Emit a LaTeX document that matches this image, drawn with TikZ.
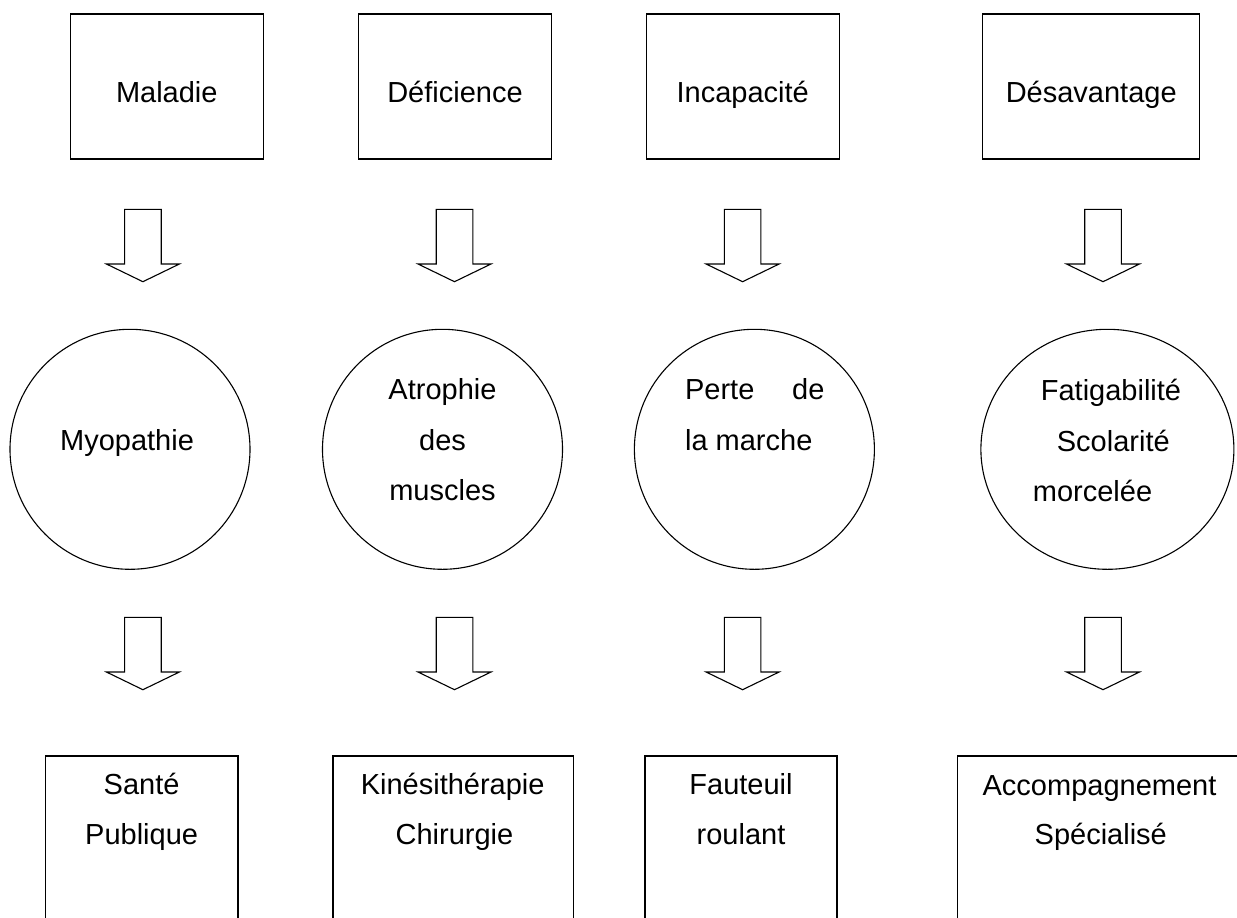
\documentclass[tikz,border=0pt]{standalone}
\usepackage{fontspec}
\setmainfont{Liberation Sans}
\usetikzlibrary{shapes.geometric}
\tikzset{
  boxnode/.style={draw, line width=1.4pt, rectangle, inner sep=0pt},
  roundnode/.style={draw, line width=1.1pt, ellipse, inner sep=0pt},
  txt/.style={inner sep=0pt, font=\fontsize{29}{35}\selectfont},
  arrowline/.style={draw, line width=1.1pt, line join=miter},
  pics/blockarrow/.style={code={
    \draw[arrowline] (-18.3,0) -- (18.3,0) -- (18.3,54.7) -- (36.5,54.7)
      -- (0,72.4) -- (-36.5,54.7) -- (-18.3,54.7) -- cycle;}}
}
\begin{document}
\begin{tikzpicture}[x=1pt, y=-1pt]
\useasboundingbox (0,0) rectangle (1237,918);
\fill[white] (0,0) rectangle (1237,918);

% top boxes
\node[boxnode, minimum width=192.9pt, minimum height=145pt] (b1) at (166.85,86.5) {};
\node[boxnode, minimum width=193pt, minimum height=145pt] (b2) at (454.7,86.5) {};
\node[boxnode, minimum width=192.8pt, minimum height=145pt] (b3) at (742.8,86.5) {};
\node[boxnode, minimum width=216.8pt, minimum height=145pt] (b4) at (1090.9,86.5) {};
\node[txt, anchor=base] (t1) at (166.8,102.7) {Maladie};
\node[txt, anchor=base] (t2) at (455,102.7) {Déficience};
\node[txt, anchor=base] (t3) at (742.7,102.7) {Incapacité};
\node[txt, anchor=base] (t4) at (1091.2,102.7) {Désavantage};

% top arrows
\coordinate (a1) at (142.9,209.3);
\coordinate (a2) at (454.5,209.3);
\coordinate (a3) at (742.6,209.3);
\coordinate (a4) at (1103,209.3);
\pic at (a1) {blockarrow};
\pic at (a2) {blockarrow};
\pic at (a3) {blockarrow};
\pic at (a4) {blockarrow};

% circles
\node[roundnode, minimum width=240pt, minimum height=240pt] (c1) at (130,449.3) {};
\node[roundnode, minimum width=240pt, minimum height=240pt] (c2) at (442.5,449.3) {};
\node[roundnode, minimum width=240pt, minimum height=240pt] (c3) at (754.4,449.3) {};
\node[roundnode, minimum width=253pt, minimum height=240pt] (c4) at (1107.4,449.3) {};
\node[txt, anchor=base] (m1) at (127,450) {Myopathie};
\node[txt, anchor=base] (m2a) at (442.5,399.3) {Atrophie};
\node[txt, anchor=base] (m2b) at (442.5,450.7) {des};
\node[txt, anchor=base] (m2c) at (442.5,500) {muscles};
\node[txt, anchor=base west] (m3a) at (684.9,399.3) {Perte};
\node[txt, anchor=base east] (m3b) at (824.6,399.3) {de};
\node[txt, anchor=base west] (m3c) at (684.9,450.7) {la marche};
\node[txt, anchor=base] (m4a) at (1111,400) {Fatigabilité};
\node[txt, anchor=base] (m4b) at (1113.3,451.7) {Scolarité};
\node[txt, anchor=base west] (m4c) at (1032.7,501.7) {morcelée};

% bottom arrows
\coordinate (d1) at (142.9,617.3);
\coordinate (d2) at (454.5,617.3);
\coordinate (d3) at (742.6,617.3);
\coordinate (d4) at (1103,617.3);
\pic at (d1) {blockarrow};
\pic at (d2) {blockarrow};
\pic at (d3) {blockarrow};
\pic at (d4) {blockarrow};

% bottom boxes
\node[boxnode, minimum width=192.5pt, minimum height=184pt] (e1) at (141.75,848) {};
\node[boxnode, minimum width=240.3pt, minimum height=184pt] (e2) at (453.15,848) {};
\node[boxnode, minimum width=192pt, minimum height=184pt] (e3) at (740.8,848) {};
\node[boxnode, minimum width=282.7pt, minimum height=184pt] (e4) at (1098.65,848) {};
\node[txt, anchor=base] (s1a) at (141.6,794) {Santé};
\node[txt, anchor=base] (s1b) at (141.6,844.3) {Publique};
\node[txt, anchor=base] (s2a) at (452.7,794) {Kinésithérapie};
\node[txt, anchor=base] (s2b) at (454.5,844.3) {Chirurgie};
\node[txt, anchor=base] (s3a) at (741,794) {Fauteuil};
\node[txt, anchor=base] (s3b) at (741,844.3) {roulant};
\node[txt, anchor=base] (s4a) at (1099.5,795) {Accompagnement};
\node[txt, anchor=base] (s4b) at (1100.8,844.3) {Spécialisé};
\end{tikzpicture}
\end{document}
